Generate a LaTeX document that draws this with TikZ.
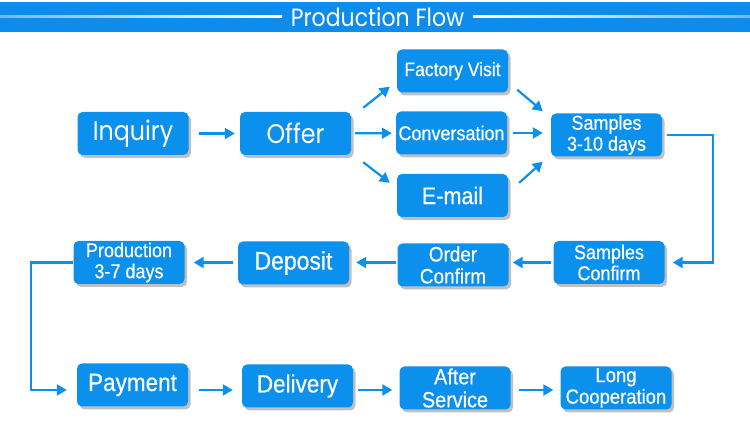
\documentclass[tikz,border=0pt]{standalone}
\usepackage{fontspec}
\setmainfont[FakeStretch=0.9,FakeBold=0.4]{Liberation Sans}
\newfontfamily\geofont[FakeStretch=0.88]{Poppins}
\usetikzlibrary{arrows.meta,shadows}
\definecolor{flowblue}{RGB}{12,144,238}
\definecolor{barblue}{RGB}{14,140,236}
\tikzset{
  flowbox/.style={fill=flowblue,text=white,rounded corners=5pt,minimum width=111pt,minimum height=43pt,
    inner sep=0pt,align=center,font=\fontsize{20.5}{21}\selectfont,
    drop shadow={shadow xshift=2.5pt,shadow yshift=-3pt,fill=black!55,opacity=.45}},
  textsize/.style 2 args={font=\fontsize{#1}{#2}\selectfont},
  geotext/.style={font=\geofont\fontsize{#1}{24}\selectfont},
  flowarrow/.style={draw=flowblue,line width=2.2pt,-{Triangle[length=10pt,width=11pt]}}
}
\begin{document}
\begin{tikzpicture}[x=1pt,y=1pt]
\useasboundingbox (0,0) rectangle (750,443);
\fill[barblue] (0,411) rectangle (750,441);
\shade[left color=barblue!60!white,right color=white] (0,425) rectangle (282,427);
\shade[left color=white,right color=barblue!60!white] (473,425) rectangle (750,427);
\node[text=white,geotext=25] (title) at (377.5,426) {Production Flow};

\node[flowbox,geotext=27] (inquiry) at (133,309.5) {Inquiry};
\node[flowbox,geotext=27] (offer) at (295.5,309.5) {Offer};
\node[flowbox,textsize={19.5}{21}] (visit) at (452.5,372) {Factory Visit};
\node[flowbox,textsize={20}{21}] (talk) at (451.5,310) {Conversation};
\node[flowbox,textsize={24}{25}] (email) at (452.5,247.5) {E-mail};
\node[flowbox,textsize={20}{21}] (samples) at (606.5,308) {Samples\\3-10 days};

\node[flowbox,textsize={20}{21}] (production) at (129,180.5) {Production\\3-7 days};
\node[flowbox,textsize={25.5}{26}] (deposit) at (293.5,180) {Deposit};
\node[flowbox,textsize={21}{22}] (order) at (453,178) {Order\\Confirm};
\node[flowbox,textsize={20}{21}] (sconfirm) at (609,180.5) {Samples\\Confirm};

\node[flowbox,textsize={25}{26}] (payment) at (132.5,58) {Payment};
\node[flowbox,textsize={25}{26}] (delivery) at (297.5,57) {Delivery};
\node[flowbox,textsize={22}{23}] (service) at (455,55) {After\\Service};
\node[flowbox,textsize={20.5}{21.5}] (coop) at (616,55) {Long\\Cooperation};

\coordinate (turnR) at (713,180.5);
\coordinate (turnL) at (31,53);

\draw[flowarrow,shorten <=10pt,shorten >=5pt] (inquiry) -- (offer);
\draw[flowarrow,shorten <=4pt,shorten >=4pt] (offer) -- (talk);
\draw[flowarrow] ([shift={(12,4)}]offer.north east) -- ([shift={(-7,6)}]visit.south west);
\draw[flowarrow] ([shift={(12,-7)}]offer.south east) -- ([shift={(-7,-9)}]email.north west);
\draw[flowarrow] ([shift={(9,3)}]visit.south east) -- ([shift={(-8,2)}]samples.north west);
\draw[flowarrow,shorten <=6pt,shorten >=8pt] (talk.east) -- (talk.east -| samples.west);
\draw[flowarrow] ([shift={(11,-9)}]email.north east) -- ([shift={(-8,-5)}]samples.south west);
\draw[flowarrow,shorten <=5pt,shorten >=8pt] (samples.east) -| (turnR) -- (sconfirm.east);

\draw[flowarrow,shorten <=2pt,shorten >=4pt] (sconfirm.west) -- (sconfirm.west -| order.east);
\draw[flowarrow,shorten <=1pt,shorten >=7pt] (order.west |- sconfirm.west) -- (sconfirm.west -| deposit.east);
\draw[flowarrow,shorten <=5pt,shorten >=9pt] (deposit.west |- sconfirm.west) -- (sconfirm.west -| production.east);
\draw[flowarrow,shorten >=10pt] (production.west) -| (turnL) -- (turnL -| payment.west);

\draw[flowarrow,shorten <=11pt,shorten >=9pt] (payment.east |- turnL) -- (turnL -| delivery.west);
\draw[flowarrow,shorten <=5pt,shorten >=7pt] (delivery.east |- turnL) -- (turnL -| service.west);
\draw[flowarrow,shorten <=8pt,shorten >=7pt] (service.east |- turnL) -- (turnL -| coop.west);
\end{tikzpicture}
\end{document}
